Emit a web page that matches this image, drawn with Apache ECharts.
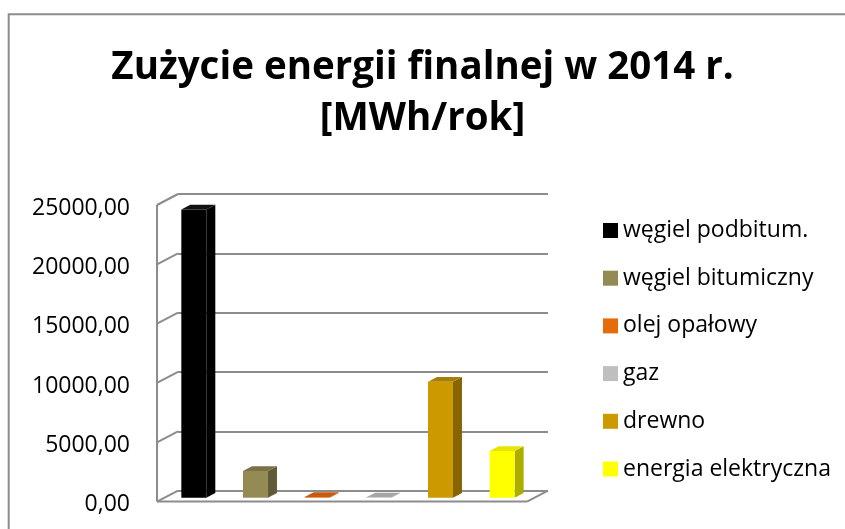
<!DOCTYPE html>
<html>
<head>
<meta charset="utf-8">
<script src="https://cdn.jsdelivr.net/npm/echarts@6/dist/echarts.min.js"></script>
<style>
  html, body { margin: 0; padding: 0; background: #fff; }
  #main { width: 845px; height: 529px; }
</style>
</head>
<body>
<div id="main"></div>
<script>
// data
const categories = ['węgiel podbitum.', 'węgiel bitumiczny', 'olej opałowy', 'gaz', 'drewno', 'energia elektryczna'];
const values = [24300, 2250, 60, 30, 9770, 3930];
const yTicks = [0, 5000, 10000, 15000, 20000, 25000];

const frontColors = ['#000000', '#948a54', '#e46c0a', '#bfbfbf', '#cc9900', '#ffff00'];
const sideColors = ['#000000', '#615a37', '#9a4806', '#8a8a8a', '#866400', '#adad00'];
const topColors = ['#111111', '#7a7146', '#c55a11', '#a6a6a6', '#a87e00', '#e6e600'];

const FONT = '"Open Sans"';
const GRID_COLOR = '#8c8c8c';
// depth of the 3d box (back wall -> front edge), px
const DEPTH = [-21, 11];

function barItem(k) {
  return function (params, api) {
    const i = api.value(0);
    const v = api.value(1);
    const top = api.coord([i, v]);
    const base = api.coord([i, 0]);
    const band = api.size([1, 0])[0];
    const x0 = top[0] - band * 0.446;
    const w = band * 0.405;
    const dx = band * 0.146, dy = -4.7;
    const yT = top[1] + 7.1, yB = base[1] + 7.1;
    return {
      type: 'group',
      children: [
        { type: 'polygon', shape: { points: [[x0 + w, yB], [x0 + w + dx, yB + dy], [x0 + w + dx, yT + dy], [x0 + w, yT]] }, style: { fill: sideColors[k] } },
        { type: 'polygon', shape: { points: [[x0, yT], [x0 + w, yT], [x0 + w + dx, yT + dy], [x0 + dx, yT + dy]] }, style: { fill: topColors[k] } },
        { type: 'rect', shape: { x: x0, y: yT, width: w, height: Math.max(yB - yT, 0.5) }, style: { fill: frontColors[k] } }
      ]
    };
  };
}

function frameItem(params, api) {
  const t = api.value(1);
  const p = api.coord([0, t]);
  const band = api.size([1, 0])[0];
  const xl = p[0] - band / 2;
  const xr = xl + band * categories.length;
  const st = { stroke: GRID_COLOR, lineWidth: 2 };
  const els = [
    { type: 'line', shape: { x1: xl, y1: p[1], x2: xl + DEPTH[0], y2: p[1] + DEPTH[1] }, style: st }
  ];
  if (t === 0) {
    const yMaxPx = api.coord([0, yTicks[yTicks.length - 1]])[1];
    els.push({ type: 'line', shape: { x1: xl + DEPTH[0], y1: p[1] + DEPTH[1], x2: xr + DEPTH[0], y2: p[1] + DEPTH[1] }, style: st });
    els.push({ type: 'line', shape: { x1: xr + DEPTH[0], y1: p[1] + DEPTH[1], x2: xr, y2: p[1] }, style: st });
    els.push({ type: 'line', shape: { x1: xl + DEPTH[0], y1: p[1] + DEPTH[1], x2: xl + DEPTH[0], y2: yMaxPx + DEPTH[1] }, style: st });
  }
  return { type: 'group', children: els };
}

const series = [{
  type: 'custom',
  name: 'frame',
  z: 1,
  silent: true,
  renderItem: frameItem,
  data: yTicks.map(t => [0, t])
}];
categories.forEach((name, k) => {
  series.push({
    type: 'custom',
    name: name,
    z: 2,
    itemStyle: { color: frontColors[k] },
    renderItem: barItem(k),
    data: [[k, values[k]]]
  });
});

const option = {
  animation: false,
  color: frontColors,
  title: {
    text: 'Zużycie energii finalnej w 2014 r.\n[MWh/rok]',
    left: 'center',
    top: 38,
    textStyle: { fontFamily: FONT, fontWeight: 'bold', fontSize: 38.5, lineHeight: 51, color: '#000' }
  },
  legend: {
    data: categories,
    orient: 'vertical',
    left: 598,
    top: 214,
    icon: 'rect',
    itemWidth: 15,
    itemHeight: 15,
    itemGap: 24.7,
    textStyle: { fontFamily: FONT, fontSize: 23, lineHeight: 23, color: '#000' }
  },
  grid: { left: 178, right: 297, top: 194, bottom: 38.4 },
  xAxis: {
    type: 'category',
    data: categories,
    axisLine: { show: false },
    axisTick: { show: false },
    axisLabel: { show: false }
  },
  yAxis: {
    type: 'value',
    min: 0,
    max: 25000,
    interval: 5000,
    axisLine: { show: false },
    axisTick: { show: false },
    splitLine: { lineStyle: { color: GRID_COLOR, width: 2 } },
    axisLabel: {
      margin: 48,
      fontFamily: FONT,
      fontSize: 23,
      color: '#000',
      verticalAlign: 'top',
      lineHeight: 28,
      formatter: v => v.toFixed(2).replace('.', ',')
    }
  },
  graphic: [{
    type: 'rect',
    silent: true,
    shape: { x: 8.7, y: 14.2, width: 900, height: 600 },
    style: { fill: 'none', stroke: GRID_COLOR, lineWidth: 2 }
  }],
  series: series
};

const chart = echarts.init(document.getElementById('main'));
chart.setOption(option);
</script>
</body>
</html>
